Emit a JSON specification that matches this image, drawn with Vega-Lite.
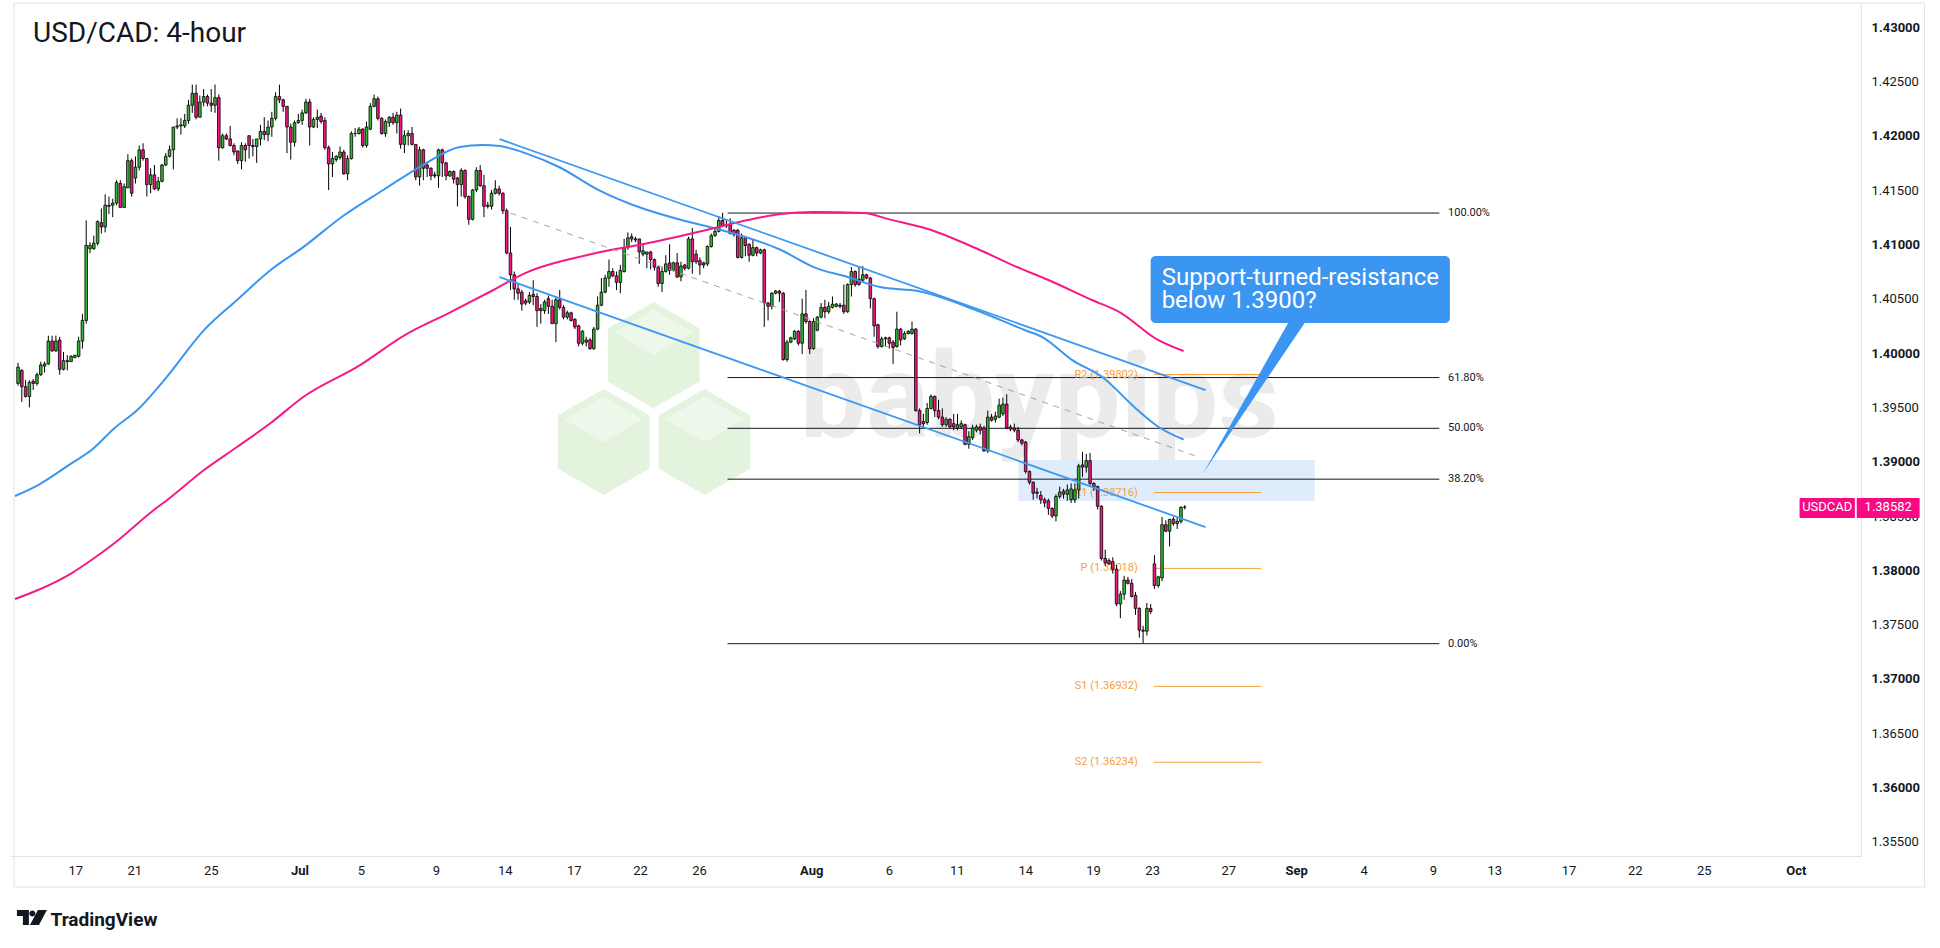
{
  "$schema": "https://vega.github.io/schema/vega-lite/v6.json",
  "autosize": "none",
  "width": 1851,
  "height": 852,
  "padding": {"left": 10, "top": 4, "right": 79, "bottom": 92},
  "background": "white",
  "config": {"view": {"stroke": null}, "font": "Roboto"},
  "title": {"text": "USD/CAD: 4-hour", "anchor": "start", "frame": "group", "orient": "top", "fontSize": 28, "font": "Roboto", "fontWeight": "normal", "color": "#131722", "baseline": "alphabetic", "offset": 0, "dx": 23, "dy": 67},
  "resolve": {"axis": {"x": "independent", "y": "independent"}},
  "datasets": {
    "candles": [
      {"i":0,"o":1.3972,"h":1.3991,"l":1.3970,"c":1.3987},
      {"i":1,"o":1.3984,"h":1.3985,"l":1.3955,"c":1.3969},
      {"i":2,"o":1.3969,"h":1.3975,"l":1.3959,"c":1.3960},
      {"i":3,"o":1.3960,"h":1.3975,"l":1.3950,"c":1.3973},
      {"i":4,"o":1.3974,"h":1.3976,"l":1.3966,"c":1.3972},
      {"i":5,"o":1.3972,"h":1.3982,"l":1.3970,"c":1.3980},
      {"i":6,"o":1.3980,"h":1.3992,"l":1.3979,"c":1.3989},
      {"i":7,"o":1.3988,"h":1.3992,"l":1.3982,"c":1.3990},
      {"i":8,"o":1.3990,"h":1.4016,"l":1.3989,"c":1.4011},
      {"i":9,"o":1.4011,"h":1.4016,"l":1.4001,"c":1.4002},
      {"i":10,"o":1.4002,"h":1.4016,"l":1.4001,"c":1.4011},
      {"i":11,"o":1.4012,"h":1.4015,"l":1.3980,"c":1.3985},
      {"i":12,"o":1.3985,"h":1.4001,"l":1.3984,"c":1.3993},
      {"i":13,"o":1.3992,"h":1.3998,"l":1.3984,"c":1.3993},
      {"i":14,"o":1.3992,"h":1.3998,"l":1.3992,"c":1.3997},
      {"i":15,"o":1.3996,"h":1.3998,"l":1.3995,"c":1.3998},
      {"i":16,"o":1.3997,"h":1.4015,"l":1.3996,"c":1.4011},
      {"i":17,"o":1.4011,"h":1.4036,"l":1.4004,"c":1.4030},
      {"i":18,"o":1.4030,"h":1.4122,"l":1.4027,"c":1.4099},
      {"i":19,"o":1.4096,"h":1.4102,"l":1.4092,"c":1.4099},
      {"i":20,"o":1.4096,"h":1.4108,"l":1.4095,"c":1.4101},
      {"i":21,"o":1.4101,"h":1.4122,"l":1.4099,"c":1.4121},
      {"i":22,"o":1.4120,"h":1.4133,"l":1.4110,"c":1.4116},
      {"i":23,"o":1.4116,"h":1.4146,"l":1.4111,"c":1.4136},
      {"i":24,"o":1.4135,"h":1.4144,"l":1.4128,"c":1.4136},
      {"i":25,"o":1.4136,"h":1.4142,"l":1.4125,"c":1.4138},
      {"i":26,"o":1.4138,"h":1.4159,"l":1.4136,"c":1.4157},
      {"i":27,"o":1.4156,"h":1.4159,"l":1.4134,"c":1.4134},
      {"i":28,"o":1.4134,"h":1.4156,"l":1.4134,"c":1.4153},
      {"i":29,"o":1.4152,"h":1.4183,"l":1.4152,"c":1.4177},
      {"i":30,"o":1.4177,"h":1.4179,"l":1.4144,"c":1.4147},
      {"i":31,"o":1.4161,"h":1.4181,"l":1.4156,"c":1.4171},
      {"i":32,"o":1.4171,"h":1.4191,"l":1.4168,"c":1.4187},
      {"i":33,"o":1.4187,"h":1.4193,"l":1.4177,"c":1.4179},
      {"i":34,"o":1.4179,"h":1.4179,"l":1.4144,"c":1.4155},
      {"i":35,"o":1.4155,"h":1.4170,"l":1.4147,"c":1.4164},
      {"i":36,"o":1.4164,"h":1.4173,"l":1.4150,"c":1.4151},
      {"i":37,"o":1.4151,"h":1.4162,"l":1.4149,"c":1.4158},
      {"i":38,"o":1.4158,"h":1.4174,"l":1.4157,"c":1.4173},
      {"i":39,"o":1.4173,"h":1.4184,"l":1.4172,"c":1.4181},
      {"i":40,"o":1.4181,"h":1.4191,"l":1.4180,"c":1.4187},
      {"i":41,"o":1.4187,"h":1.4208,"l":1.4169,"c":1.4208},
      {"i":42,"o":1.4208,"h":1.4216,"l":1.4206,"c":1.4209},
      {"i":43,"o":1.4209,"h":1.4216,"l":1.4201,"c":1.4210},
      {"i":44,"o":1.4209,"h":1.4220,"l":1.4207,"c":1.4214},
      {"i":45,"o":1.4214,"h":1.4233,"l":1.4211,"c":1.4228},
      {"i":46,"o":1.4228,"h":1.4247,"l":1.4221,"c":1.4239},
      {"i":47,"o":1.4239,"h":1.4247,"l":1.4215,"c":1.4217},
      {"i":48,"o":1.4217,"h":1.4237,"l":1.4217,"c":1.4231},
      {"i":49,"o":1.4231,"h":1.4243,"l":1.4227,"c":1.4236},
      {"i":50,"o":1.4236,"h":1.4238,"l":1.4227,"c":1.4230},
      {"i":51,"o":1.4230,"h":1.4243,"l":1.4222,"c":1.4228},
      {"i":52,"o":1.4228,"h":1.4247,"l":1.4221,"c":1.4235},
      {"i":53,"o":1.4235,"h":1.4238,"l":1.4177,"c":1.4189},
      {"i":54,"o":1.4189,"h":1.4202,"l":1.4188,"c":1.4200},
      {"i":55,"o":1.4200,"h":1.4202,"l":1.4196,"c":1.4197},
      {"i":56,"o":1.4197,"h":1.4209,"l":1.4190,"c":1.4191},
      {"i":57,"o":1.4191,"h":1.4193,"l":1.4182,"c":1.4185},
      {"i":58,"o":1.4186,"h":1.4186,"l":1.4174,"c":1.4177},
      {"i":59,"o":1.4177,"h":1.4194,"l":1.4169,"c":1.4191},
      {"i":60,"o":1.4191,"h":1.4193,"l":1.4176,"c":1.4187},
      {"i":61,"o":1.4200,"h":1.4200,"l":1.4179,"c":1.4191},
      {"i":62,"o":1.4191,"h":1.4197,"l":1.4181,"c":1.4190},
      {"i":63,"o":1.4190,"h":1.4197,"l":1.4175,"c":1.4197},
      {"i":64,"o":1.4197,"h":1.4210,"l":1.4191,"c":1.4204},
      {"i":65,"o":1.4204,"h":1.4217,"l":1.4196,"c":1.4201},
      {"i":66,"o":1.4201,"h":1.4214,"l":1.4195,"c":1.4208},
      {"i":67,"o":1.4208,"h":1.4222,"l":1.4199,"c":1.4216},
      {"i":68,"o":1.4216,"h":1.4240,"l":1.4214,"c":1.4236},
      {"i":69,"o":1.4236,"h":1.4247,"l":1.4230,"c":1.4233},
      {"i":70,"o":1.4233,"h":1.4234,"l":1.4222,"c":1.4227},
      {"i":71,"o":1.4227,"h":1.4227,"l":1.4184,"c":1.4208},
      {"i":72,"o":1.4208,"h":1.4211,"l":1.4178,"c":1.4194},
      {"i":73,"o":1.4194,"h":1.4214,"l":1.4190,"c":1.4212},
      {"i":74,"o":1.4212,"h":1.4220,"l":1.4211,"c":1.4214},
      {"i":75,"o":1.4214,"h":1.4224,"l":1.4210,"c":1.4221},
      {"i":76,"o":1.4221,"h":1.4234,"l":1.4220,"c":1.4231},
      {"i":77,"o":1.4231,"h":1.4234,"l":1.4191,"c":1.4208},
      {"i":78,"o":1.4208,"h":1.4217,"l":1.4207,"c":1.4215},
      {"i":79,"o":1.4215,"h":1.4224,"l":1.4207,"c":1.4217},
      {"i":80,"o":1.4218,"h":1.4221,"l":1.4211,"c":1.4213},
      {"i":81,"o":1.4214,"h":1.4217,"l":1.4187,"c":1.4189},
      {"i":82,"o":1.4189,"h":1.4191,"l":1.4150,"c":1.4174},
      {"i":83,"o":1.4174,"h":1.4185,"l":1.4162,"c":1.4179},
      {"i":84,"o":1.4178,"h":1.4182,"l":1.4176,"c":1.4181},
      {"i":85,"o":1.4180,"h":1.4190,"l":1.4178,"c":1.4185},
      {"i":86,"o":1.4185,"h":1.4187,"l":1.4164,"c":1.4165},
      {"i":87,"o":1.4165,"h":1.4182,"l":1.4159,"c":1.4179},
      {"i":88,"o":1.4179,"h":1.4204,"l":1.4178,"c":1.4202},
      {"i":89,"o":1.4202,"h":1.4207,"l":1.4199,"c":1.4202},
      {"i":90,"o":1.4202,"h":1.4208,"l":1.4201,"c":1.4206},
      {"i":91,"o":1.4206,"h":1.4207,"l":1.4189,"c":1.4191},
      {"i":92,"o":1.4191,"h":1.4213,"l":1.4189,"c":1.4208},
      {"i":93,"o":1.4206,"h":1.4230,"l":1.4205,"c":1.4227},
      {"i":94,"o":1.4227,"h":1.4238,"l":1.4226,"c":1.4234},
      {"i":95,"o":1.4234,"h":1.4236,"l":1.4214,"c":1.4216},
      {"i":96,"o":1.4216,"h":1.4217,"l":1.4201,"c":1.4202},
      {"i":97,"o":1.4202,"h":1.4215,"l":1.4199,"c":1.4213},
      {"i":98,"o":1.4212,"h":1.4218,"l":1.4208,"c":1.4217},
      {"i":99,"o":1.4217,"h":1.4221,"l":1.4210,"c":1.4212},
      {"i":100,"o":1.4212,"h":1.4222,"l":1.4202,"c":1.4219},
      {"i":101,"o":1.4219,"h":1.4225,"l":1.4188,"c":1.4192},
      {"i":102,"o":1.4192,"h":1.4205,"l":1.4184,"c":1.4200},
      {"i":103,"o":1.4200,"h":1.4205,"l":1.4191,"c":1.4202},
      {"i":104,"o":1.4202,"h":1.4208,"l":1.4191,"c":1.4192},
      {"i":105,"o":1.4192,"h":1.4192,"l":1.4159,"c":1.4162},
      {"i":106,"o":1.4162,"h":1.4190,"l":1.4154,"c":1.4187},
      {"i":107,"o":1.4187,"h":1.4188,"l":1.4159,"c":1.4170},
      {"i":108,"o":1.4173,"h":1.4176,"l":1.4162,"c":1.4170},
      {"i":109,"o":1.4170,"h":1.4171,"l":1.4159,"c":1.4163},
      {"i":110,"o":1.4164,"h":1.4167,"l":1.4161,"c":1.4163},
      {"i":111,"o":1.4163,"h":1.4188,"l":1.4152,"c":1.4187},
      {"i":112,"o":1.4187,"h":1.4188,"l":1.4162,"c":1.4175},
      {"i":113,"o":1.4175,"h":1.4176,"l":1.4159,"c":1.4163},
      {"i":114,"o":1.4163,"h":1.4168,"l":1.4162,"c":1.4167},
      {"i":115,"o":1.4167,"h":1.4168,"l":1.4156,"c":1.4160},
      {"i":116,"o":1.4161,"h":1.4162,"l":1.4135,"c":1.4155},
      {"i":117,"o":1.4155,"h":1.4170,"l":1.4144,"c":1.4168},
      {"i":118,"o":1.4168,"h":1.4169,"l":1.4142,"c":1.4144},
      {"i":119,"o":1.4144,"h":1.4145,"l":1.4118,"c":1.4123},
      {"i":120,"o":1.4123,"h":1.4151,"l":1.4122,"c":1.4150},
      {"i":121,"o":1.4150,"h":1.4171,"l":1.4148,"c":1.4168},
      {"i":122,"o":1.4168,"h":1.4173,"l":1.4153,"c":1.4154},
      {"i":123,"o":1.4154,"h":1.4164,"l":1.4125,"c":1.4135},
      {"i":124,"o":1.4136,"h":1.4139,"l":1.4133,"c":1.4135},
      {"i":125,"o":1.4135,"h":1.4150,"l":1.4132,"c":1.4147},
      {"i":126,"o":1.4147,"h":1.4159,"l":1.4146,"c":1.4151},
      {"i":127,"o":1.4151,"h":1.4154,"l":1.4145,"c":1.4147},
      {"i":128,"o":1.4147,"h":1.4148,"l":1.4128,"c":1.4131},
      {"i":129,"o":1.4131,"h":1.4133,"l":1.4091,"c":1.4092},
      {"i":130,"o":1.4092,"h":1.4116,"l":1.4058,"c":1.4072},
      {"i":131,"o":1.4072,"h":1.4075,"l":1.4049,"c":1.4059},
      {"i":132,"o":1.4059,"h":1.4064,"l":1.4049,"c":1.4055},
      {"i":133,"o":1.4056,"h":1.4058,"l":1.4039,"c":1.4045},
      {"i":134,"o":1.4048,"h":1.4050,"l":1.4044,"c":1.4046},
      {"i":135,"o":1.4047,"h":1.4056,"l":1.4045,"c":1.4053},
      {"i":136,"o":1.4054,"h":1.4067,"l":1.4044,"c":1.4052},
      {"i":137,"o":1.4052,"h":1.4055,"l":1.4024,"c":1.4039},
      {"i":138,"o":1.4041,"h":1.4045,"l":1.4027,"c":1.4039},
      {"i":139,"o":1.4039,"h":1.4049,"l":1.4036,"c":1.4047},
      {"i":140,"o":1.4050,"h":1.4053,"l":1.4036,"c":1.4043},
      {"i":141,"o":1.4043,"h":1.4049,"l":1.4027,"c":1.4027},
      {"i":142,"o":1.4027,"h":1.4052,"l":1.4010,"c":1.4049},
      {"i":143,"o":1.4049,"h":1.4058,"l":1.4040,"c":1.4042},
      {"i":144,"o":1.4042,"h":1.4044,"l":1.4031,"c":1.4033},
      {"i":145,"o":1.4033,"h":1.4039,"l":1.4031,"c":1.4037},
      {"i":146,"o":1.4037,"h":1.4038,"l":1.4029,"c":1.4030},
      {"i":147,"o":1.4031,"h":1.4032,"l":1.4022,"c":1.4024},
      {"i":148,"o":1.4025,"h":1.4026,"l":1.4006,"c":1.4009},
      {"i":149,"o":1.4009,"h":1.4021,"l":1.4007,"c":1.4020},
      {"i":150,"o":1.4012,"h":1.4015,"l":1.4006,"c":1.4010},
      {"i":151,"o":1.4012,"h":1.4014,"l":1.4003,"c":1.4004},
      {"i":152,"o":1.4004,"h":1.4024,"l":1.4003,"c":1.4022},
      {"i":153,"o":1.4022,"h":1.4052,"l":1.4021,"c":1.4044},
      {"i":154,"o":1.4044,"h":1.4069,"l":1.4043,"c":1.4056},
      {"i":155,"o":1.4056,"h":1.4072,"l":1.4055,"c":1.4069},
      {"i":156,"o":1.4069,"h":1.4086,"l":1.4061,"c":1.4075},
      {"i":157,"o":1.4075,"h":1.4078,"l":1.4070,"c":1.4071},
      {"i":158,"o":1.4071,"h":1.4075,"l":1.4058,"c":1.4065},
      {"i":159,"o":1.4065,"h":1.4081,"l":1.4055,"c":1.4076},
      {"i":160,"o":1.4075,"h":1.4105,"l":1.4074,"c":1.4097},
      {"i":161,"o":1.4097,"h":1.4111,"l":1.4095,"c":1.4106},
      {"i":162,"o":1.4107,"h":1.4110,"l":1.4102,"c":1.4105},
      {"i":163,"o":1.4105,"h":1.4107,"l":1.4102,"c":1.4104},
      {"i":164,"o":1.4105,"h":1.4105,"l":1.4082,"c":1.4093},
      {"i":165,"o":1.4091,"h":1.4101,"l":1.4089,"c":1.4094},
      {"i":166,"o":1.4091,"h":1.4093,"l":1.4078,"c":1.4093},
      {"i":167,"o":1.4093,"h":1.4094,"l":1.4077,"c":1.4086},
      {"i":168,"o":1.4086,"h":1.4087,"l":1.4076,"c":1.4079},
      {"i":169,"o":1.4079,"h":1.4080,"l":1.4061,"c":1.4064},
      {"i":170,"o":1.4064,"h":1.4079,"l":1.4056,"c":1.4075},
      {"i":171,"o":1.4075,"h":1.4090,"l":1.4074,"c":1.4082},
      {"i":172,"o":1.4083,"h":1.4100,"l":1.4072,"c":1.4076},
      {"i":173,"o":1.4076,"h":1.4084,"l":1.4075,"c":1.4083},
      {"i":174,"o":1.4083,"h":1.4092,"l":1.4069,"c":1.4070},
      {"i":175,"o":1.4070,"h":1.4084,"l":1.4066,"c":1.4080},
      {"i":176,"o":1.4081,"h":1.4082,"l":1.4076,"c":1.4078},
      {"i":177,"o":1.4078,"h":1.4107,"l":1.4077,"c":1.4105},
      {"i":178,"o":1.4105,"h":1.4115,"l":1.4073,"c":1.4084},
      {"i":179,"o":1.4091,"h":1.4095,"l":1.4082,"c":1.4084},
      {"i":180,"o":1.4085,"h":1.4088,"l":1.4072,"c":1.4081},
      {"i":181,"o":1.4083,"h":1.4084,"l":1.4078,"c":1.4081},
      {"i":182,"o":1.4082,"h":1.4099,"l":1.4080,"c":1.4098},
      {"i":183,"o":1.4098,"h":1.4110,"l":1.4097,"c":1.4108},
      {"i":184,"o":1.4108,"h":1.4116,"l":1.4107,"c":1.4112},
      {"i":185,"o":1.4112,"h":1.4126,"l":1.4111,"c":1.4122},
      {"i":186,"o":1.4122,"h":1.4129,"l":1.4116,"c":1.4117},
      {"i":187,"o":1.4118,"h":1.4122,"l":1.4115,"c":1.4117},
      {"i":188,"o":1.4118,"h":1.4124,"l":1.4109,"c":1.4110},
      {"i":189,"o":1.4113,"h":1.4114,"l":1.4107,"c":1.4109},
      {"i":190,"o":1.4113,"h":1.4114,"l":1.4087,"c":1.4088},
      {"i":191,"o":1.4088,"h":1.4110,"l":1.4087,"c":1.4106},
      {"i":192,"o":1.4106,"h":1.4107,"l":1.4089,"c":1.4099},
      {"i":193,"o":1.4100,"h":1.4101,"l":1.4084,"c":1.4090},
      {"i":194,"o":1.4090,"h":1.4104,"l":1.4089,"c":1.4097},
      {"i":195,"o":1.4097,"h":1.4098,"l":1.4089,"c":1.4092},
      {"i":196,"o":1.4092,"h":1.4096,"l":1.4091,"c":1.4095},
      {"i":197,"o":1.4095,"h":1.4096,"l":1.4024,"c":1.4046},
      {"i":198,"o":1.4046,"h":1.4047,"l":1.4030,"c":1.4043},
      {"i":199,"o":1.4043,"h":1.4056,"l":1.4040,"c":1.4055},
      {"i":200,"o":1.4055,"h":1.4058,"l":1.4054,"c":1.4057},
      {"i":201,"o":1.4057,"h":1.4058,"l":1.4047,"c":1.4055},
      {"i":202,"o":1.4055,"h":1.4056,"l":1.3993,"c":1.3994},
      {"i":203,"o":1.3994,"h":1.4012,"l":1.3992,"c":1.4010},
      {"i":204,"o":1.4010,"h":1.4015,"l":1.4009,"c":1.4014},
      {"i":205,"o":1.4013,"h":1.4021,"l":1.4012,"c":1.4020},
      {"i":206,"o":1.4020,"h":1.4021,"l":1.4007,"c":1.4009},
      {"i":207,"o":1.4009,"h":1.4050,"l":1.3999,"c":1.4036},
      {"i":208,"o":1.4036,"h":1.4058,"l":1.4027,"c":1.4029},
      {"i":209,"o":1.4029,"h":1.4030,"l":1.3999,"c":1.4004},
      {"i":210,"o":1.4004,"h":1.4032,"l":1.4003,"c":1.4029},
      {"i":211,"o":1.4021,"h":1.4034,"l":1.4020,"c":1.4033},
      {"i":212,"o":1.4033,"h":1.4046,"l":1.4032,"c":1.4042},
      {"i":213,"o":1.4042,"h":1.4049,"l":1.4032,"c":1.4038},
      {"i":214,"o":1.4038,"h":1.4047,"l":1.4036,"c":1.4043},
      {"i":215,"o":1.4042,"h":1.4052,"l":1.4041,"c":1.4045},
      {"i":216,"o":1.4043,"h":1.4046,"l":1.4042,"c":1.4045},
      {"i":217,"o":1.4044,"h":1.4046,"l":1.4041,"c":1.4043},
      {"i":218,"o":1.4044,"h":1.4063,"l":1.4036,"c":1.4038},
      {"i":219,"o":1.4038,"h":1.4064,"l":1.4037,"c":1.4063},
      {"i":220,"o":1.4063,"h":1.4079,"l":1.4052,"c":1.4075},
      {"i":221,"o":1.4075,"h":1.4076,"l":1.4061,"c":1.4063},
      {"i":222,"o":1.4068,"h":1.4080,"l":1.4062,"c":1.4063},
      {"i":223,"o":1.4067,"h":1.4080,"l":1.4066,"c":1.4072},
      {"i":224,"o":1.4072,"h":1.4073,"l":1.4068,"c":1.4069},
      {"i":225,"o":1.4069,"h":1.4070,"l":1.4041,"c":1.4050},
      {"i":226,"o":1.4050,"h":1.4051,"l":1.4015,"c":1.4025},
      {"i":227,"o":1.4026,"h":1.4027,"l":1.4004,"c":1.4006},
      {"i":228,"o":1.4006,"h":1.4015,"l":1.4005,"c":1.4013},
      {"i":229,"o":1.4013,"h":1.4015,"l":1.4006,"c":1.4014},
      {"i":230,"o":1.4014,"h":1.4015,"l":1.4004,"c":1.4009},
      {"i":231,"o":1.4010,"h":1.4012,"l":1.3990,"c":1.4005},
      {"i":232,"o":1.4006,"h":1.4038,"l":1.4005,"c":1.4022},
      {"i":233,"o":1.4022,"h":1.4023,"l":1.4007,"c":1.4012},
      {"i":234,"o":1.4013,"h":1.4020,"l":1.4012,"c":1.4018},
      {"i":235,"o":1.4018,"h":1.4021,"l":1.4017,"c":1.4020},
      {"i":236,"o":1.4018,"h":1.4029,"l":1.4017,"c":1.4022},
      {"i":237,"o":1.4022,"h":1.4023,"l":1.3946,"c":1.3947},
      {"i":238,"o":1.3947,"h":1.3949,"l":1.3926,"c":1.3934},
      {"i":239,"o":1.3937,"h":1.3944,"l":1.3932,"c":1.3935},
      {"i":240,"o":1.3936,"h":1.3954,"l":1.3934,"c":1.3949},
      {"i":241,"o":1.3949,"h":1.3962,"l":1.3948,"c":1.3960},
      {"i":242,"o":1.3960,"h":1.3961,"l":1.3941,"c":1.3947},
      {"i":243,"o":1.3947,"h":1.3957,"l":1.3939,"c":1.3941},
      {"i":244,"o":1.3941,"h":1.3949,"l":1.3932,"c":1.3934},
      {"i":245,"o":1.3934,"h":1.3941,"l":1.3932,"c":1.3939},
      {"i":246,"o":1.3939,"h":1.3940,"l":1.3931,"c":1.3932},
      {"i":247,"o":1.3935,"h":1.3944,"l":1.3929,"c":1.3932},
      {"i":248,"o":1.3931,"h":1.3944,"l":1.3929,"c":1.3934},
      {"i":249,"o":1.3932,"h":1.3938,"l":1.3930,"c":1.3935},
      {"i":250,"o":1.3934,"h":1.3935,"l":1.3915,"c":1.3916},
      {"i":251,"o":1.3916,"h":1.3928,"l":1.3912,"c":1.3923},
      {"i":252,"o":1.3922,"h":1.3934,"l":1.3920,"c":1.3931},
      {"i":253,"o":1.3929,"h":1.3934,"l":1.3927,"c":1.3932},
      {"i":254,"o":1.3932,"h":1.3935,"l":1.3925,"c":1.3929},
      {"i":255,"o":1.3931,"h":1.3933,"l":1.3909,"c":1.3910},
      {"i":256,"o":1.3910,"h":1.3947,"l":1.3908,"c":1.3941},
      {"i":257,"o":1.3941,"h":1.3944,"l":1.3937,"c":1.3938},
      {"i":258,"o":1.3939,"h":1.3946,"l":1.3936,"c":1.3942},
      {"i":259,"o":1.3941,"h":1.3958,"l":1.3940,"c":1.3952},
      {"i":260,"o":1.3944,"h":1.3959,"l":1.3942,"c":1.3953},
      {"i":261,"o":1.3953,"h":1.3962,"l":1.3930,"c":1.3931},
      {"i":262,"o":1.3932,"h":1.3934,"l":1.3928,"c":1.3930},
      {"i":263,"o":1.3931,"h":1.3935,"l":1.3927,"c":1.3929},
      {"i":264,"o":1.3929,"h":1.3932,"l":1.3918,"c":1.3920},
      {"i":265,"o":1.3920,"h":1.3921,"l":1.3915,"c":1.3917},
      {"i":266,"o":1.3918,"h":1.3919,"l":1.3889,"c":1.3891},
      {"i":267,"o":1.3891,"h":1.3892,"l":1.3879,"c":1.3881},
      {"i":268,"o":1.3881,"h":1.3882,"l":1.3865,"c":1.3871},
      {"i":269,"o":1.3872,"h":1.3876,"l":1.3866,"c":1.3871},
      {"i":270,"o":1.3869,"h":1.3873,"l":1.3861,"c":1.3865},
      {"i":271,"o":1.3865,"h":1.3867,"l":1.3858,"c":1.3862},
      {"i":272,"o":1.3864,"h":1.3866,"l":1.3851,"c":1.3857},
      {"i":273,"o":1.3857,"h":1.3858,"l":1.3848,"c":1.3850},
      {"i":274,"o":1.3850,"h":1.3870,"l":1.3845,"c":1.3868},
      {"i":275,"o":1.3868,"h":1.3877,"l":1.3866,"c":1.3872},
      {"i":276,"o":1.3873,"h":1.3875,"l":1.3866,"c":1.3870},
      {"i":277,"o":1.3870,"h":1.3879,"l":1.3864,"c":1.3874},
      {"i":278,"o":1.3865,"h":1.3880,"l":1.3862,"c":1.3875},
      {"i":279,"o":1.3865,"h":1.3880,"l":1.3862,"c":1.3874},
      {"i":280,"o":1.3874,"h":1.3898,"l":1.3866,"c":1.3896},
      {"i":281,"o":1.3897,"h":1.3909,"l":1.3886,"c":1.3895},
      {"i":282,"o":1.3895,"h":1.3907,"l":1.3890,"c":1.3901},
      {"i":283,"o":1.3901,"h":1.3908,"l":1.3878,"c":1.3880},
      {"i":284,"o":1.3880,"h":1.3881,"l":1.3873,"c":1.3877},
      {"i":285,"o":1.3877,"h":1.3878,"l":1.3856,"c":1.3859},
      {"i":286,"o":1.3859,"h":1.3860,"l":1.3809,"c":1.3811},
      {"i":287,"o":1.3811,"h":1.3819,"l":1.3804,"c":1.3807},
      {"i":288,"o":1.3809,"h":1.3811,"l":1.3805,"c":1.3806},
      {"i":289,"o":1.3808,"h":1.3812,"l":1.3797,"c":1.3801},
      {"i":290,"o":1.3801,"h":1.3805,"l":1.3767,"c":1.3769},
      {"i":291,"o":1.3769,"h":1.3781,"l":1.3756,"c":1.3778},
      {"i":292,"o":1.3778,"h":1.3795,"l":1.3773,"c":1.3791},
      {"i":293,"o":1.3791,"h":1.3794,"l":1.3787,"c":1.3788},
      {"i":294,"o":1.3788,"h":1.3792,"l":1.3775,"c":1.3776},
      {"i":295,"o":1.3777,"h":1.3780,"l":1.3759,"c":1.3765},
      {"i":296,"o":1.3765,"h":1.3766,"l":1.3738,"c":1.3745},
      {"i":297,"o":1.3745,"h":1.3749,"l":1.3733,"c":1.3744},
      {"i":298,"o":1.3744,"h":1.3770,"l":1.3740,"c":1.3765},
      {"i":299,"o":1.3765,"h":1.3769,"l":1.3760,"c":1.3762},
      {"i":300,"o":1.3806,"h":1.3814,"l":1.3783,"c":1.3786},
      {"i":301,"o":1.3786,"h":1.3795,"l":1.3784,"c":1.3794},
      {"i":302,"o":1.3793,"h":1.3849,"l":1.3790,"c":1.3842},
      {"i":303,"o":1.3842,"h":1.3846,"l":1.3835,"c":1.3836},
      {"i":304,"o":1.3836,"h":1.3847,"l":1.3822,"c":1.3847},
      {"i":305,"o":1.3847,"h":1.3849,"l":1.3841,"c":1.3843},
      {"i":306,"o":1.3843,"h":1.3849,"l":1.3838,"c":1.3845},
      {"i":307,"o":1.3845,"h":1.3859,"l":1.3843,"c":1.3858},
      {"i":308,"o":1.3858,"h":1.3860,"l":1.3856,"c":1.38582}
    ],
    "sma_blue": [
      {"i":-0.8,"p":1.38684},{"i":5.3,"p":1.38785},{"i":14.2,"p":1.38987},{"i":19.4,"p":1.39107},{"i":25.5,"p":1.3931},{"i":31.5,"p":1.39475},{"i":38.6,"p":1.39751},{"i":49.1,"p":1.40211},{"i":57.8,"p":1.40488},{"i":66.7,"p":1.40764},{"i":75.3,"p":1.40975},{"i":85.8,"p":1.41261},{"i":96.4,"p":1.415},{"i":106.9,"p":1.4173},{"i":116.6,"p":1.41896},{"i":122.6,"p":1.41914},{"i":127.1,"p":1.41905},{"i":133.9,"p":1.4184},{"i":142.8,"p":1.41712},{"i":153.3,"p":1.415},{"i":164.6,"p":1.41334},{"i":175.1,"p":1.41224},{"i":185.6,"p":1.41132},{"i":201.4,"p":1.40948},{"i":210.0,"p":1.40791},{"i":219.0,"p":1.40699},{"i":227.6,"p":1.40607},{"i":237.6,"p":1.4057},{"i":252.8,"p":1.40396},{"i":265.7,"p":1.40212},{"i":270.4,"p":1.40147},{"i":278.3,"p":1.39935},{"i":286.2,"p":1.39779},{"i":295.1,"p":1.3949},{"i":301.1,"p":1.39319},{"i":307.7,"p":1.39204}
    ],
    "sma_pink": [
      {"i":-0.8,"p":1.37736},{"i":5.3,"p":1.37819},{"i":14.2,"p":1.37975},{"i":19.4,"p":1.38095},{"i":25.5,"p":1.38251},{"i":35.2,"p":1.38537},{"i":40.4,"p":1.38675},{"i":49.1,"p":1.38923},{"i":57.8,"p":1.39135},{"i":66.7,"p":1.39356},{"i":75.3,"p":1.39595},{"i":90.3,"p":1.39889},{"i":102.1,"p":1.40165},{"i":113.7,"p":1.40368},{"i":125.5,"p":1.4058},{"i":133.9,"p":1.40736},{"i":151.5,"p":1.40911},{"i":166.4,"p":1.41012},{"i":183.8,"p":1.4115},{"i":192.7,"p":1.41224},{"i":201.4,"p":1.41279},{"i":210.0,"p":1.41297},{"i":223.2,"p":1.41288},{"i":230.0,"p":1.4123},{"i":240.2,"p":1.41141},{"i":253.9,"p":1.40948},{"i":263.1,"p":1.408},{"i":272.0,"p":1.40672},{"i":283.5,"p":1.40488},{"i":291.2,"p":1.40368},{"i":300.1,"p":1.40138},{"i":307.7,"p":1.40018}
    ],
    "channel": [
      {"ln":"upper","i":127.1,"p":1.41969},{"ln":"upper","i":313.5,"p":1.39659},
      {"ln":"lower","i":127.1,"p":1.40699},{"ln":"lower","i":313.5,"p":1.38398}
    ],
    "midline": [{"i":130.0,"p":1.41288},{"i":311.6,"p":1.39043}],
    "fib": [
      {"lab":"100.00%","p":1.41288},{"lab":"61.80%","p":1.39774},{"lab":"50.00%","p":1.39307},{"lab":"38.20%","p":1.38839},{"lab":"0.00%","p":1.37325}
    ],
    "pivots": [
      {"lab":"R2 (1.39802)","p":1.39802},{"lab":"R1 (1.38716)","p":1.38716},{"lab":"P (1.38018)","p":1.38018},{"lab":"S1 (1.36932)","p":1.36932},{"lab":"S2 (1.36234)","p":1.36234}
    ],
    "zone": [{"i0":264.1,"i1":342.3,"p0":1.38638,"p1":1.39015}],
    "callout": [{"i0":299.0,"i1":378.0,"p0":1.40276,"p1":1.40893,"it":301.9,"pt":1.40626,"txt":"Support-turned-resistance\nbelow 1.3900?"}],
    "tail": [{"p":1.4032,"x0":336.0,"x1":340.5},{"p":1.38895,"x0":312.9,"x1":312.9}],
    "hexes": [{"i":167.8,"p":1.39981},{"i":154.6,"p":1.39181},{"i":181.2,"p":1.39181}],
    "mark": [{"t":"babypips","i":269.6,"p":1.39227}],
    "tags": [
      {"lab":"USDCAD","i0":470.3,"i1":484.9,"ic":477.6,"p0":1.38481,"p1":1.38665,"p":1.38582},
      {"lab":"1.38582","i0":485.4,"i1":502.0,"ic":493.7,"p0":1.38481,"p1":1.38665,"p":1.38582}
    ],
    "frame": [{"i0":-1.05,"i1":503.3,"p0":1.35086,"p1":1.43221}],
    "logo": [{"i":3.66,"p":1.34805}]
  },
  "layer": [
    {
      "data": {"name": "frame"},
      "mark": {"type": "rect", "fillOpacity": 0, "stroke": "#e0e3eb", "strokeWidth": 1},
      "encoding": {
        "x": {"field": "i0", "type": "quantitative", "axis": null},
        "x2": {"field": "i1"},
        "y": {"field": "p0", "type": "quantitative", "axis": null},
        "y2": {"field": "p1"}
      }
    },
    {
      "data": {"name": "hexes"},
      "mark": {"type": "point", "shape": "M0,-1L0.866,-0.5L0.866,0.5L0,1L-0.866,0.5L-0.866,-0.5Z", "size": 11236, "filled": true, "fill": "#e4f3de", "opacity": 1, "strokeWidth": 0},
      "encoding": {
        "x": {"field": "i", "type": "quantitative", "axis": null},
        "y": {"field": "p", "type": "quantitative", "axis": null}
      }
    },
    {
      "data": {"name": "hexes"},
      "mark": {"type": "point", "shape": "M0,-0.86L0.74,-0.43L0,0L-0.74,-0.43Z", "size": 11236, "filled": true, "fill": "#edf8ea", "opacity": 1, "strokeWidth": 0},
      "encoding": {
        "x": {"field": "i", "type": "quantitative", "axis": null},
        "y": {"field": "p", "type": "quantitative", "axis": null}
      }
    },
    {
      "data": {"name": "mark"},
      "mark": {"type": "text", "font": "Roboto", "fontWeight": "bold", "fontSize": 118, "color": "#ebebeb", "align": "center", "baseline": "alphabetic"},
      "encoding": {
        "x": {"field": "i", "type": "quantitative", "axis": null},
        "y": {"field": "p", "type": "quantitative", "axis": null},
        "text": {"field": "t"}
      }
    },
    {
      "data": {"name": "zone"},
      "mark": {"type": "rect", "color": "#deecfc"},
      "encoding": {
        "x": {"field": "i0", "type": "quantitative", "axis": null},
        "x2": {"field": "i1"},
        "y": {"field": "p0", "type": "quantitative", "axis": null},
        "y2": {"field": "p1"}
      }
    },
    {
      "data": {"name": "fib"},
      "mark": {"type": "rule", "color": "#131722", "strokeWidth": 1},
      "encoding": {
        "x": {"datum": 187.3, "type": "quantitative", "axis": null},
        "x2": {"datum": 375.2},
        "y": {"field": "p", "type": "quantitative", "axis": null}
      }
    },
    {
      "data": {"name": "fib"},
      "mark": {"type": "text", "font": "Roboto", "fontSize": 11, "color": "#131722", "align": "left", "baseline": "middle"},
      "encoding": {
        "x": {"datum": 377.5, "type": "quantitative", "axis": null},
        "y": {"field": "p", "type": "quantitative", "axis": null},
        "text": {"field": "lab"}
      }
    },
    {
      "data": {"name": "pivots"},
      "mark": {"type": "rule", "color": "#f5a13c", "strokeWidth": 1},
      "encoding": {
        "x": {"datum": 299.8, "type": "quantitative", "axis": null},
        "x2": {"datum": 328.2},
        "y": {"field": "p", "type": "quantitative", "axis": null}
      }
    },
    {
      "data": {"name": "pivots"},
      "mark": {"type": "text", "font": "Roboto", "fontSize": 11, "color": "#f5a13c", "align": "right", "baseline": "middle"},
      "encoding": {
        "x": {"datum": 295.6, "type": "quantitative", "axis": null},
        "y": {"field": "p", "type": "quantitative", "axis": null},
        "text": {"field": "lab"}
      }
    },
    {
      "data": {"name": "candles"},
      "mark": {"type": "rule", "color": "#000000", "strokeWidth": 1},
      "encoding": {
        "x": {
          "field": "i", "type": "quantitative",
          "scale": {"domain": [-0.8, 485.2], "nice": false, "zero": false},
          "axis": {
            "title": "TradingView", "titleX": 40, "titleY": 69, "titleAlign": "left", "titleBaseline": "alphabetic",
            "titleFont": "Roboto", "titleFontSize": 19, "titleFontWeight": "bold", "titleColor": "#131722",
            "values": [15.1, 30.7, 50.9, 74.3, 90.5, 110.3, 128.5, 146.7, 164.2, 179.8, 209.4, 229.9, 247.8, 265.9, 283.8, 299.4, 319.5, 337.4, 355.2, 373.5, 389.7, 409.3, 426.8, 445, 469.3],
            "labelExpr": "['17','21','25','Jul','5','9','14','17','22','26','Aug','6','11','14','19','23','27','Sep','4','9','13','17','22','25','Oct'][indexof([15.1, 30.7, 50.9, 74.3, 90.5, 110.3, 128.5, 146.7, 164.2, 179.8, 209.4, 229.9, 247.8, 265.9, 283.8, 299.4, 319.5, 337.4, 355.2, 373.5, 389.7, 409.3, 426.8, 445, 469.3], datum.value)]",
            "labelFontWeight": {"expr": "indexof([74.3, 209.4, 337.4, 469.3], datum.value) >= 0 ? 'bold' : 'normal'"},
            "labelFont": "Roboto", "labelFontSize": 13, "labelColor": "#131722", "labelPadding": 8,
            "labelOverlap": false, "labelFlush": false, "ticks": false, "grid": false,
            "domain": true, "domainColor": "#e0e3eb", "domainWidth": 1
          }
        },
        "y": {
          "field": "l", "type": "quantitative",
          "scale": {"domain": [1.35371, 1.43212], "nice": false, "zero": false},
          "axis": {
            "orient": "right", "title": null,
            "values": [1.355, 1.36, 1.365, 1.37, 1.375, 1.38, 1.385, 1.39, 1.395, 1.4, 1.405, 1.41, 1.415, 1.42, 1.425, 1.43],
            "format": ".5f",
            "labelFontWeight": {"expr": "abs(datum.value * 100 - round(datum.value * 100)) < 0.01 ? 'bold' : 'normal'"},
            "labelFont": "Roboto", "labelFontSize": 13, "labelColor": "#131722", "labelPadding": 10, "labelAlign": "left",
            "labelOverlap": false, "labelFlush": false, "ticks": false, "grid": false,
            "domain": true, "domainColor": "#e0e3eb", "domainWidth": 1
          }
        },
        "y2": {"field": "h"}
      }
    },
    {
      "data": {"name": "candles"},
      "mark": {"type": "bar", "width": 2.6, "stroke": "#000000", "strokeWidth": 0.8},
      "encoding": {
        "x": {"field": "i", "type": "quantitative", "axis": null},
        "y": {"field": "o", "type": "quantitative", "axis": null},
        "y2": {"field": "c"},
        "color": {"condition": {"test": "datum.c >= datum.o", "value": "#33b633"}, "value": "#f7157f"}
      }
    },
    {
      "data": {"name": "sma_blue"},
      "mark": {"type": "line", "color": "#3b96f2", "strokeWidth": 2, "interpolate": "monotone"},
      "encoding": {
        "x": {"field": "i", "type": "quantitative", "axis": null},
        "y": {"field": "p", "type": "quantitative", "axis": null}
      }
    },
    {
      "data": {"name": "sma_pink"},
      "mark": {"type": "line", "color": "#f51b86", "strokeWidth": 2, "interpolate": "monotone"},
      "encoding": {
        "x": {"field": "i", "type": "quantitative", "axis": null},
        "y": {"field": "p", "type": "quantitative", "axis": null}
      }
    },
    {
      "data": {"name": "channel"},
      "mark": {"type": "line", "color": "#3d98f4", "strokeWidth": 1.8},
      "encoding": {
        "x": {"field": "i", "type": "quantitative", "axis": null},
        "y": {"field": "p", "type": "quantitative", "axis": null},
        "detail": {"field": "ln"}
      }
    },
    {
      "data": {"name": "midline"},
      "mark": {"type": "line", "color": "#a3a3a3", "strokeWidth": 1, "strokeDash": [6, 6]},
      "encoding": {
        "x": {"field": "i", "type": "quantitative", "axis": null},
        "y": {"field": "p", "type": "quantitative", "axis": null}
      }
    },
    {
      "data": {"name": "tail"},
      "mark": {"type": "area", "orient": "horizontal", "color": "#3b96f2", "opacity": 1},
      "encoding": {
        "y": {"field": "p", "type": "quantitative", "axis": null},
        "x": {"field": "x0", "type": "quantitative", "axis": null},
        "x2": {"field": "x1"}
      }
    },
    {
      "data": {"name": "callout"},
      "mark": {"type": "rect", "color": "#3b96f2", "cornerRadius": 5},
      "encoding": {
        "x": {"field": "i0", "type": "quantitative", "axis": null},
        "x2": {"field": "i1"},
        "y": {"field": "p0", "type": "quantitative", "axis": null},
        "y2": {"field": "p1"}
      }
    },
    {
      "data": {"name": "callout"},
      "mark": {"type": "text", "font": "Roboto", "fontSize": 24, "color": "#ffffff", "align": "left", "baseline": "alphabetic", "lineBreak": "\n", "lineHeight": 23},
      "encoding": {
        "x": {"field": "it", "type": "quantitative", "axis": null},
        "y": {"field": "pt", "type": "quantitative", "axis": null},
        "text": {"field": "txt"}
      }
    },
    {
      "data": {"name": "tags"},
      "mark": {"type": "rect", "color": "#fc0884", "cornerRadius": 1},
      "encoding": {
        "x": {"field": "i0", "type": "quantitative", "axis": null},
        "x2": {"field": "i1"},
        "y": {"field": "p0", "type": "quantitative", "axis": null},
        "y2": {"field": "p1"}
      }
    },
    {
      "data": {"name": "tags"},
      "mark": {"type": "text", "font": "Roboto", "fontSize": 13, "color": "#ffffff", "align": "center", "baseline": "middle"},
      "encoding": {
        "x": {"field": "ic", "type": "quantitative", "axis": null},
        "y": {"field": "p", "type": "quantitative", "axis": null},
        "text": {"field": "lab"}
      }
    },
    {
      "data": {"name": "logo"},
      "mark": {"type": "point", "shape": "M-1,-0.5L-0.2,-0.5L-0.2,0.5L-0.6,0.5L-0.6,-0.1L-1,-0.1Z M-0.17,-0.27A0.2,0.2,0,1,0,0.23,-0.27A0.2,0.2,0,1,0,-0.17,-0.27Z M0.4,-0.5L1,-0.5L0.47,0.5L-0.13,0.5Z", "size": 900, "filled": true, "fill": "#131722", "opacity": 1, "strokeWidth": 0},
      "encoding": {
        "x": {"field": "i", "type": "quantitative", "axis": null},
        "y": {"field": "p", "type": "quantitative", "axis": null}
      }
    }
  ]
}
